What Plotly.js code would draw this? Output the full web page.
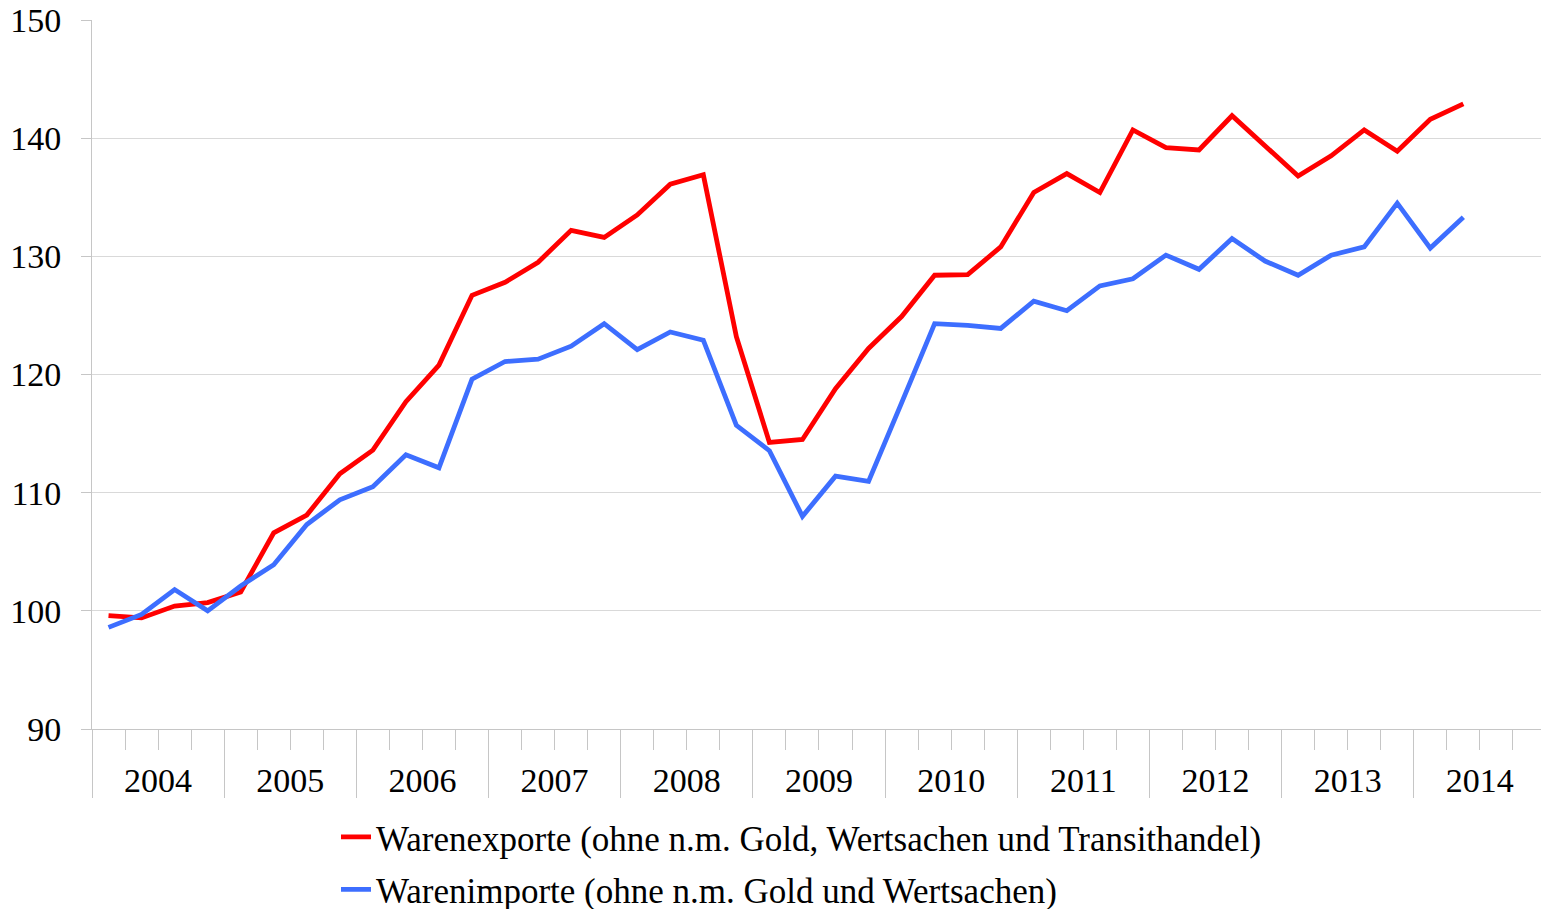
<!DOCTYPE html>
<html>
<head>
<meta charset="utf-8">
<script src="https://cdn.plot.ly/plotly-3.0.1.min.js"></script>
<style>
html,body{margin:0;padding:0;background:#fff;overflow:hidden;}
#chart{width:1541px;height:909px;}
</style>
</head>
<body>
<div id="chart"></div>
<script>
// Quarterly data, 2004 Q1 – 2014 Q2
const years = ['2004','2005','2006','2007','2008','2009','2010','2011','2012','2013','2014'];
const exportsIdx = [99.6, 99.4, 100.4, 100.7, 101.6, 106.6, 108.1, 111.6, 113.6, 117.7, 120.8, 126.7,
  127.8, 129.5, 132.2, 131.6, 133.5, 136.1, 136.9, 123.2, 114.25, 114.5, 118.8, 122.2,
  124.9, 128.4, 128.45, 130.8, 135.4, 137.0, 135.4, 140.7, 139.2, 139.0, 141.9, 139.35,
  136.8, 138.5, 140.7, 138.9, 141.6, 142.9];
const importsIdx = [98.6, 99.7, 101.8, 100.0, 102.1, 103.9, 107.3, 109.4, 110.5, 113.2, 112.1, 119.6,
  121.1, 121.3, 122.4, 124.3, 122.1, 123.6, 122.9, 115.7, 113.55, 108.0, 111.4, 110.95,
  117.6, 124.3, 124.15, 123.9, 126.2, 125.4, 127.5, 128.1, 130.1, 128.9, 131.5, 129.6,
  128.4, 130.1, 130.8, 134.5, 130.7, 133.3];
const seriesNames = ['Warenexporte (ohne n.m. Gold, Wertsachen und Transithandel)',
                     'Warenimporte (ohne n.m. Gold und Wertsachen)'];
const yTicks = [90, 100, 110, 120, 130, 140, 150];

const quarterX = exportsIdx.map((_, i) => i);
const yearBounds = years.map((_, k) => k * 4 - 0.5);
const yearCenters = years.map((_, k) => k * 4 + 1.5);
const FONT = 'Liberation Serif, Times New Roman, serif';
const xRange = [-0.5, 43.35];

const traces = [
  {x: quarterX, y: exportsIdx, name: seriesNames[0], type: 'scatter', mode: 'lines',
   line: {color: '#ff0000', width: 4.8}, legendgroup: 'a'},
  {x: quarterX, y: importsIdx, name: seriesNames[1], type: 'scatter', mode: 'lines',
   line: {color: '#3d6eff', width: 4.8}, legendgroup: 'b'},
  // carrier for the year-label axis (draws nothing)
  {x: yearCenters, y: yearCenters.map(() => null), xaxis: 'x2', yaxis: 'y', type: 'scatter',
   mode: 'lines', showlegend: false, hoverinfo: 'skip'}
];

const layout = {
  width: 1541, height: 909,
  margin: {l: 92, r: 0, t: 20, b: 180, autoexpand: false},
  paper_bgcolor: '#fff', plot_bgcolor: '#fff',
  font: {family: FONT, size: 34, color: '#000'},
  showlegend: true,
  legend: {
    orientation: 'v', x: 336 / 1541, xref: 'container', xanchor: 'left',
    y: 0.1115, yref: 'container', yanchor: 'top',
    font: {family: FONT, size: 35, color: '#000'},
    tracegroupgap: 4, bgcolor: 'rgba(0,0,0,0)'
  },
  xaxis: {
    range: xRange, showgrid: false, zeroline: false,
    showline: true, linecolor: '#c6c6c6', linewidth: 1,
    tickmode: 'array', tickvals: yearBounds, showticklabels: false,
    ticks: 'outside', ticklen: 68, tickcolor: '#c6c6c6', tickwidth: 1,
    minor: {tickmode: 'linear', tick0: -0.5, dtick: 1, ticks: 'outside', ticklen: 20,
            tickcolor: '#c6c6c6', tickwidth: 1, showgrid: false},
    fixedrange: true
  },
  xaxis2: {
    overlaying: 'x', anchor: 'y', side: 'bottom', range: xRange,
    showgrid: false, zeroline: false, showline: false,
    tickmode: 'array', tickvals: yearCenters, ticktext: years, tickangle: 0,
    ticks: 'outside', ticklen: 21, tickcolor: 'rgba(0,0,0,0)',
    tickfont: {family: FONT, size: 34, color: '#000'}
  },
  yaxis: {
    range: [90, 150], tickmode: 'array', tickvals: yTicks,
    showgrid: true, gridcolor: '#d9d9d9', gridwidth: 1,
    zeroline: false, showline: true, linecolor: '#c6c6c6', linewidth: 1,
    ticks: 'outside', ticklen: 10, tickcolor: '#c6c6c6',
    ticklabelstandoff: 13,
    tickfont: {family: FONT, size: 34, color: '#000'},
    fixedrange: true
  }
};

Plotly.newPlot('chart', traces, layout, {displayModeBar: false, staticPlot: true});
</script>
</body>
</html>
